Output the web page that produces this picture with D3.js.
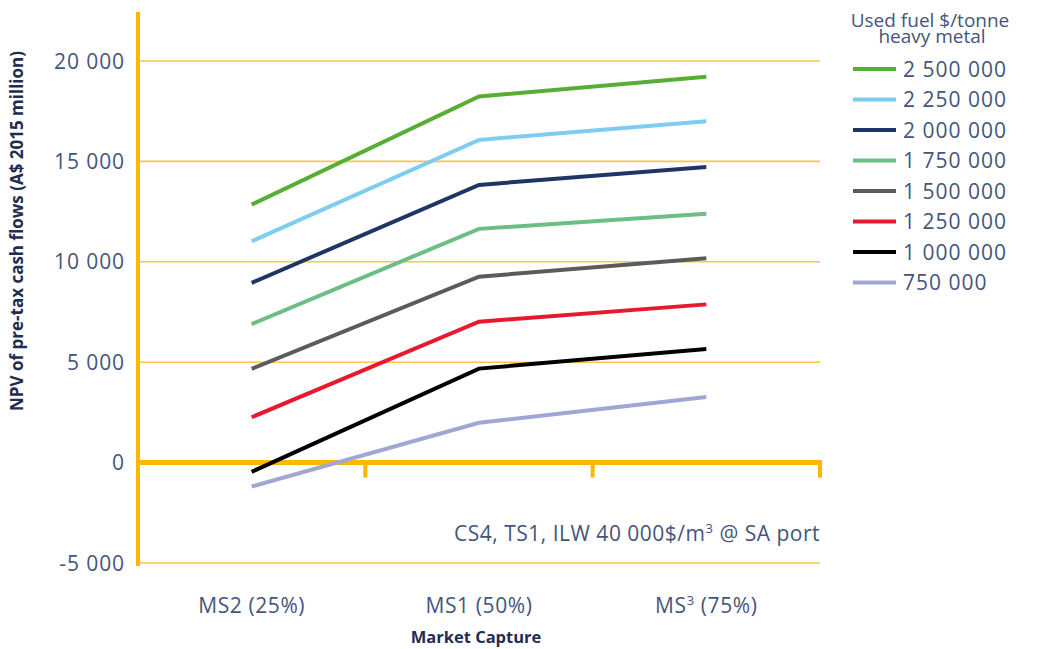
<!DOCTYPE html>
<html><head><meta charset="utf-8">
<script src="https://cdn.jsdelivr.net/npm/d3@7"></script>
<style>body{margin:0;background:#fff}svg{display:block}text{font-family:"Open Sans","Noto Sans",sans-serif}</style>
</head><body><svg id="c" width="1037" height="649"></svg>
<script>
const categories = ["MS2 (25%)", "MS1 (50%)", "MS3 (75%)"];
const seriesNames = ["2 500 000","2 250 000","2 000 000","1 750 000","1 500 000","1 250 000","1 000 000","750 000"];
const seriesColors = ["#58ae34","#7ecdf0","#1f3566","#6cbd86","#5b5b5b","#e8192f","#000000","#a1a7d5"];
const s2500000 = [12850, 18230, 19220];
const s2250000 = [11020, 16070, 17000];
const s2000000 = [8950, 13830, 14725];
const s1750000 = [6900, 11640, 12390];
const s1500000 = [4670, 9260, 10175];
const s1250000 = [2260, 7020, 7880];
const s1000000 = [-460, 4680, 5660];
const s750000 = [-1190, 1980, 3270];
const yTicks = [-5000, 0, 5000, 10000, 15000, 20000];
const tickLabels = ["-5 000","0","5 000","10 000","15 000","20 000"];
const seriesValues = [s2500000,s2250000,s2000000,s1750000,s1500000,s1250000,s1000000,s750000];

const svg = d3.select("#c");
const orange = "#fbb800", grid = "#f9c84a", txt = "#44557c", dark = "#1f2d52";
const x = d3.scaleBand().domain(categories).range([138, 820]);
const y = d3.scaleLinear().domain([-5000, 20000]).range([563, 61]);

// gridlines
svg.append("g").selectAll("line").data(yTicks.filter(t => t !== 0)).join("line")
  .attr("x1", 138).attr("x2", 820).attr("y1", d => y(d)).attr("y2", d => y(d))
  .attr("stroke", grid).attr("stroke-width", 1.6);

// y tick labels
svg.append("g").selectAll("text").data(yTicks).join("text")
  .attr("x", 125).attr("y", d => y(d)).attr("dy", "0.36em").attr("text-anchor", "end")
  .attr("fill", txt).attr("font-size", 21).attr("letter-spacing", 0.9)
  .text((d, i) => tickLabels[i]);

// zero axis with ticks
svg.append("line").attr("x1", 136).attr("x2", 822).attr("y1", y(0)).attr("y2", y(0))
  .attr("stroke", orange).attr("stroke-width", 5);
svg.append("g").selectAll("line").data(categories).join("line")
  .attr("x1", d => x(d) + x.bandwidth()).attr("x2", d => x(d) + x.bandwidth())
  .attr("y1", y(0)).attr("y2", y(0) + 15)
  .attr("stroke", orange).attr("stroke-width", 4);

// y axis line
svg.append("line").attr("x1", 138).attr("x2", 138).attr("y1", 12).attr("y2", 566)
  .attr("stroke", orange).attr("stroke-width", 4);

// series lines
const line = d3.line().x((d, i) => x(categories[i]) + x.bandwidth() / 2).y(d => y(d));
svg.append("g").selectAll("path").data(seriesValues).join("path")
  .attr("d", line).attr("fill", "none")
  .attr("stroke", (d, i) => seriesColors[i]).attr("stroke-width", 4);

// x category labels
const catText = svg.append("g").selectAll("text").data(categories).join("text")
  .attr("x", d => x(d) + x.bandwidth() / 2).attr("y", 613).attr("text-anchor", "middle")
  .attr("fill", txt).attr("font-size", 21).attr("letter-spacing", 0.6);
catText.each(function(d) {
  const t = d3.select(this);
  if (d === "MS3 (75%)") {
    t.append("tspan").text("MS");
    t.append("tspan").attr("dy", -8).attr("font-size", 13).text("3");
    t.append("tspan").attr("dy", 8).text(" (75%)");
  } else t.text(d);
});

// axis titles
svg.append("text").attr("x", 476).attr("y", 643).attr("text-anchor", "middle")
  .attr("fill", dark).attr("font-size", 16.5).attr("font-weight", 700).text("Market Capture");
svg.append("text").attr("transform", "translate(23,231) rotate(-90)").attr("text-anchor", "middle")
  .attr("fill", dark).attr("font-size", 17).attr("font-weight", 700)
  .text("NPV of pre-tax cash flows (A$ 2015 million)");

// annotation
const ann = svg.append("text").attr("x", 820).attr("y", 541).attr("text-anchor", "end")
  .attr("fill", txt).attr("font-size", 21).attr("letter-spacing", 0.5);
ann.append("tspan").text("CS4, TS1, ILW 40 000$/m");
ann.append("tspan").attr("dy", -8).attr("font-size", 13).text("3");
ann.append("tspan").attr("dy", 8).text(" @ SA port");

// legend
svg.append("text").attr("x", 930).attr("y", 27).attr("text-anchor", "middle")
  .attr("fill", txt).attr("font-size", 19).text("Used fuel $/tonne");
svg.append("text").attr("x", 932).attr("y", 43).attr("text-anchor", "middle")
  .attr("fill", txt).attr("font-size", 19).text("heavy metal");
const lg = svg.append("g").selectAll("g").data(seriesNames).join("g")
  .attr("transform", (d, i) => `translate(853,${69 + i * 30.5})`);
lg.append("line").attr("x1", 0).attr("x2", 43).attr("stroke", (d, i) => seriesColors[i]).attr("stroke-width", 4);
lg.append("text").attr("x", 50).attr("dy", "0.36em").attr("fill", txt)
  .attr("font-size", 21).attr("letter-spacing", 1).text(d => d);
</script></body></html>
